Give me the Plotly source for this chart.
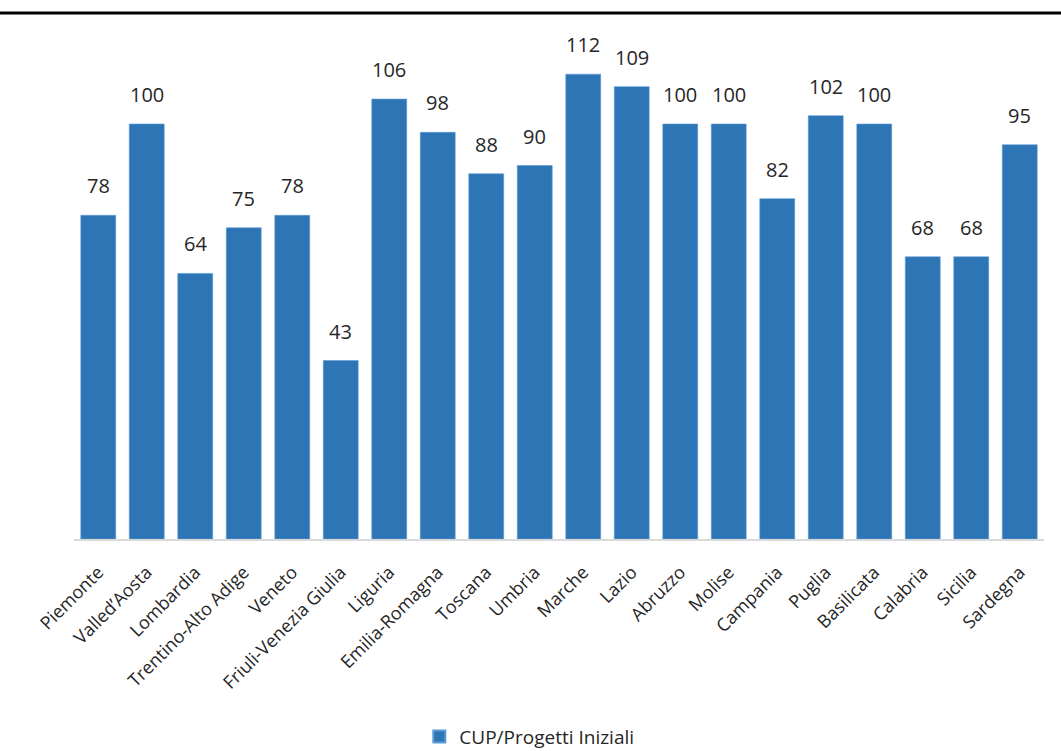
import plotly.graph_objects as go

regioni = ["Piemonte", "Valled\u2019Aosta", "Lombardia", "Trentino-Alto Adige", "Veneto",
           "Friuli-Venezia Giulia", "Liguria", "Emilia-Romagna", "Toscana", "Umbria",
           "Marche", "Lazio", "Abruzzo", "Molise", "Campania", "Puglia", "Basilicata",
           "Calabria", "Sicilia", "Sardegna"]
valori = [78, 100, 64, 75, 78, 43, 106, 98, 88, 90, 112, 109, 100, 100, 82, 102, 100, 68, 68, 95]
serie = "CUP/Progetti Iniziali"

BLU = "#2E75B6"
FONT = "Open Sans, Lato, sans-serif"
TESTO = "#262626"

fig = go.Figure()
fig.add_trace(go.Bar(
    x=regioni, y=valori, name=serie,
    marker=dict(color=BLU, line=dict(color="#5B9BD5", width=0.6)),
    hoverinfo="x+y",
))

# value labels above each bar
for r, v in zip(regioni, valori):
    fig.add_annotation(x=r, y=v, text=str(v), showarrow=False,
                       yanchor="bottom", yshift=14,
                       font=dict(family=FONT, size=20, color=TESTO))

# heavy rule across the top of the page
fig.add_shape(type="line", xref="paper", yref="paper",
              x0=-0.08, x1=1.02, y0=1.056, y1=1.056,
              line=dict(color="black", width=3))

fig.update_layout(
    template="none",
    width=1061, height=751,
    margin=dict(l=74, r=17, t=41, b=212, autoexpand=False),
    paper_bgcolor="white", plot_bgcolor="white",
    bargap=0.28,
    showlegend=True,
    legend=dict(orientation="h", x=0.356, xanchor="left", y=-0.397, yanchor="middle",
                font=dict(family=FONT, size=19, color=TESTO),
                itemsizing="constant", itemwidth=30, bgcolor="rgba(0,0,0,0)"),
    xaxis=dict(tickangle=-45, showline=True, linecolor="#D9D9D9", linewidth=1.5,
               ticks="", showgrid=False, range=[-0.5, 19.5], automargin=False,
               ticklabelstandoff=14,
               tickfont=dict(family=FONT, size=18, color=TESTO)),
    yaxis=dict(range=[0, 120], visible=False, showgrid=False, zeroline=False,
               automargin=False),
)

fig.write_html("out.html")
